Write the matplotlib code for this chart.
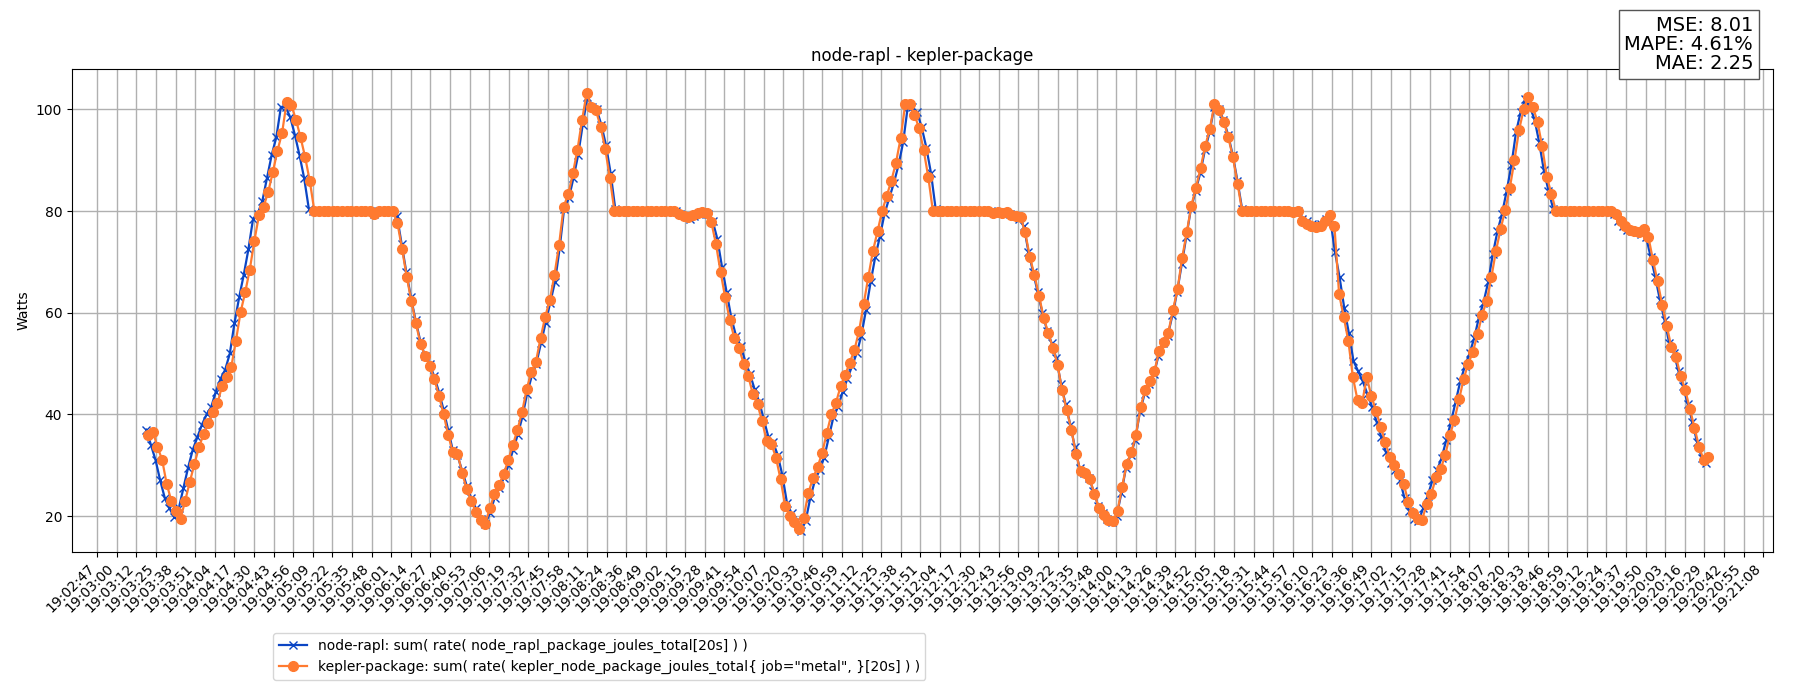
import numpy as np
import matplotlib
matplotlib.use("Agg")
import matplotlib.pyplot as plt

tick_labels = ["19:02:47","19:03:00","19:03:12","19:03:25","19:03:38","19:03:51","19:04:04","19:04:17","19:04:30","19:04:43",
"19:04:56","19:05:09","19:05:22","19:05:35","19:05:48","19:06:01","19:06:14","19:06:27","19:06:40","19:06:53",
"19:07:06","19:07:19","19:07:32","19:07:45","19:07:58","19:08:11","19:08:24","19:08:36","19:08:49","19:09:02",
"19:09:15","19:09:28","19:09:41","19:09:54","19:10:07","19:10:20","19:10:33","19:10:46","19:10:59","19:11:12",
"19:11:25","19:11:38","19:11:51","19:12:04","19:12:17","19:12:30","19:12:43","19:12:56","19:13:09","19:13:22",
"19:13:35","19:13:48","19:14:00","19:14:13","19:14:26","19:14:39","19:14:52","19:15:05","19:15:18","19:15:31",
"19:15:44","19:15:57","19:16:10","19:16:23","19:16:36","19:16:49","19:17:02","19:17:15","19:17:28","19:17:41",
"19:17:54","19:18:07","19:18:20","19:18:33","19:18:46","19:18:59","19:19:12","19:19:24","19:19:37","19:19:50",
"19:20:03","19:20:16","19:20:29","19:20:42","19:20:55","19:21:08"]

kepler_package = [
36.0,36.6,33.6,31.1,26.3,23.0,21.0,19.5,
23.0,26.7,30.2,33.6,36.1,38.3,40.4,42.2,45.6,47.4,49.4,54.5,60.1,64.0,68.5,74.2,79.2,80.9,83.8,87.7,91.9,95.4,101.5,100.9,98.0,94.5,90.6,85.9,80.0,
80,80,80,80,80,80,80,80,80,80,80,80,79.5,80,80,80,80,
77.6,72.5,67.1,62.3,57.9,53.8,51.5,49.5,46.9,43.6,40.0,35.9,32.5,32.3,28.5,25.3,23.0,20.7,19.2,18.5,
21.5,24.3,26.2,28.2,31.0,34.0,37.0,40.5,45.0,48.3,50.4,55.0,59.2,62.5,67.4,73.3,80.9,83.3,87.4,92.1,98.0,103.3,100.5,99.8,96.6,92.3,86.6,80.0,
80,80,80,80,80,80,80,80,80,80,80,80,80,79.5,79.0,78.8,79.2,79.7,79.8,79.7,
77.8,73.5,68.0,63.0,58.5,55.0,53.0,50.0,47.5,44.0,42.0,38.6,34.8,34.2,31.5,27.2,22.0,20.0,18.8,17.5,
19.7,24.5,27.4,29.6,32.4,36.3,40.0,42.3,45.5,47.8,50.2,52.7,56.4,61.7,67.0,72.1,76.0,80.0,83.0,86.0,89.5,94.3,101.0,101.0,99.0,96.3,92.0,86.7,80.0,
80,80,80,80,80,80,80,80,80,80,80,80,79.7,79.8,79.6,79.8,79.2,79.0,78.8,
75.8,71.0,67.4,63.3,59.0,56.0,53.1,49.8,44.7,40.8,37.0,32.2,28.8,28.4,27.3,24.3,21.5,20.3,19.2,19.0,
21.0,25.8,30.3,32.6,36.0,41.5,44.8,46.5,48.5,52.4,54.3,56.1,60.5,64.6,70.8,75.8,81.1,84.6,88.5,92.8,96.2,101.0,99.8,97.6,94.5,90.6,85.4,80.0,
80,80,80,80,80,80,80,80,80,80,79.8,80.0,
78.0,77.5,77.0,76.8,77.0,78.0,79.2,77.0,63.7,59.2,54.5,47.3,42.8,42.3,47.3,43.6,40.7,37.6,34.6,31.6,30.0,28.2,26.3,22.8,20.5,19.5,19.3,
22.4,24.3,27.7,29.2,32.0,35.9,38.9,43.0,47.0,50.0,52.3,55.8,59.6,62.4,67.0,72.2,76.5,80.2,84.6,90.0,96.0,100.0,102.5,100.5,97.5,92.8,86.8,83.4,80.0,
80,80,80,80,80,80,80,80,80,80,80,80,79.5,78.0,77.0,76.3,76.0,75.8,76.4,75.0,70.4,66.2,61.6,57.4,53.2,51.3,47.6,44.8,41.1,37.4,33.6,31.0,31.6]

node_rapl = [
37.0,34.0,31.0,27.0,23.5,21.5,19.8,
21.5,25.5,29.5,33.0,35.5,38.0,40.0,41.5,44.5,47.0,48.8,52.0,58.0,63.0,67.5,72.5,78.5,79.5,82.0,86.5,91.0,94.5,100.5,100.5,98.5,95.0,91.0,86.5,80.5,80.0,
80,80,80,80,80,80,80,80,80,80,80,80,79.5,80,80,80,80,
79.0,73.5,68.0,63.0,58.5,54.5,51.5,50.0,47.5,44.5,41.0,37.0,33.0,32.0,29.0,26.0,23.5,21.5,19.5,18.5,
20.5,23.5,25.5,27.5,30.0,33.0,36.0,39.5,44.0,47.5,50.0,54.0,58.0,62.0,66.0,72.5,80.5,82.5,86.5,91.0,97.0,102.5,100.5,100.0,97.0,93.0,87.5,80.5,80.0,
80,80,80,80,80,80,80,80,80,80,80,80,79.5,79.0,78.5,79.0,79.5,79.8,79.5,
78.0,74.5,69.0,64.0,59.0,55.5,53.5,50.5,48.0,45.0,42.5,39.0,35.5,34.5,32.0,28.0,22.5,20.5,19.0,17.0,
19.0,23.5,27.0,29.0,31.5,35.5,39.5,41.5,44.5,47.0,49.5,52.0,55.5,60.5,66.0,71.0,75.0,79.5,82.5,85.5,89.0,93.5,100.5,100.5,99.5,96.5,92.5,87.5,80.5,80.0,
80,80,80,80,80,80,80,80,80,80,80,79.7,79.8,79.6,79.5,79.0,78.5,
77.0,72.0,68.0,64.0,60.0,56.5,54.0,51.0,46.0,42.0,38.0,33.5,29.5,28.5,27.5,25.0,22.0,20.5,19.5,18.8,
20.0,24.5,29.5,32.0,35.0,40.5,44.0,46.0,48.0,51.5,54.0,55.5,59.5,64.0,69.5,75.0,80.5,84.0,87.5,92.0,95.5,100.5,100.0,98.0,95.0,91.0,86.0,80.5,80.0,
80,80,80,80,80,80,80,80,80,80,80,
78.5,78.0,77.5,77.0,77.5,78.5,78.5,72.0,67.0,61.0,56.0,50.5,48.5,46.5,44.0,41.5,38.5,35.5,32.5,30.5,29.0,27.0,23.5,21.0,19.5,19.0,
21.5,24.0,27.0,29.0,31.5,35.0,38.5,42.5,46.5,49.5,52.0,55.0,59.0,62.0,66.0,71.5,76.0,79.5,84.0,89.0,95.5,99.5,102.0,100.5,98.0,93.5,88.0,84.0,80.5,80.0,
80,80,80,80,80,80,80,80,80,80,80,79.5,78.0,77.0,76.3,76.0,75.8,75.5,75.0,71.0,67.0,62.5,58.5,54.0,52.0,48.5,45.5,42.0,38.5,34.5,31.5,30.5]

metrics_text = "MSE: 8.01\nMAPE: 4.61%\nMAE: 2.25"
TICK = 1101.0 / 85  # seconds per tick label

def times(n, t0, t1):
    return np.linspace(t0 * TICK, t1 * TICK, n)

fig = plt.figure(figsize=(18, 7), dpi=100)
ax = fig.add_axes([0.040, 0.212, 0.945, 0.689])
tb = times(len(node_rapl), 2.5, 82.1)
to = times(len(kepler_package), 2.6, 82.2)
ax.plot(tb, node_rapl, color="#0b45c4", marker="x", markersize=6, lw=1.6,
        label="node-rapl: sum( rate( node_rapl_package_joules_total[20s] ) )")
ax.plot(to, kepler_package, color="#ff7a30", marker="o", markersize=7, lw=1.6,
        label='kepler-package: sum( rate( kepler_node_package_joules_total{ job="metal", }[20s] ) )')
ticks = np.arange(len(tick_labels)) * TICK
ax.set_xticks(ticks)
ax.set_xticklabels(tick_labels, rotation=45, ha="right", fontsize=10)
ax.set_xlim(-1.29 * TICK, 85.5 * TICK)
ax.set_ylim(13.0, 107.9)
ax.set_yticks([20, 40, 60, 80, 100])
ax.grid(True, color="#b0b0b0", lw=1)
ax.set_axisbelow(True)
ax.set_ylabel("Watts")
ax.set_title("node-rapl - kepler-package", fontsize=12)
fig.legend(loc="upper left", bbox_to_anchor=(0.148, 0.105), fontsize=10)
fig.text(0.974, 0.977, metrics_text, ha="right", va="top", fontsize=14, linespacing=1.0,
         bbox=dict(facecolor="white", edgecolor="#555555", pad=4))
fig.savefig("out.png", dpi=100)
